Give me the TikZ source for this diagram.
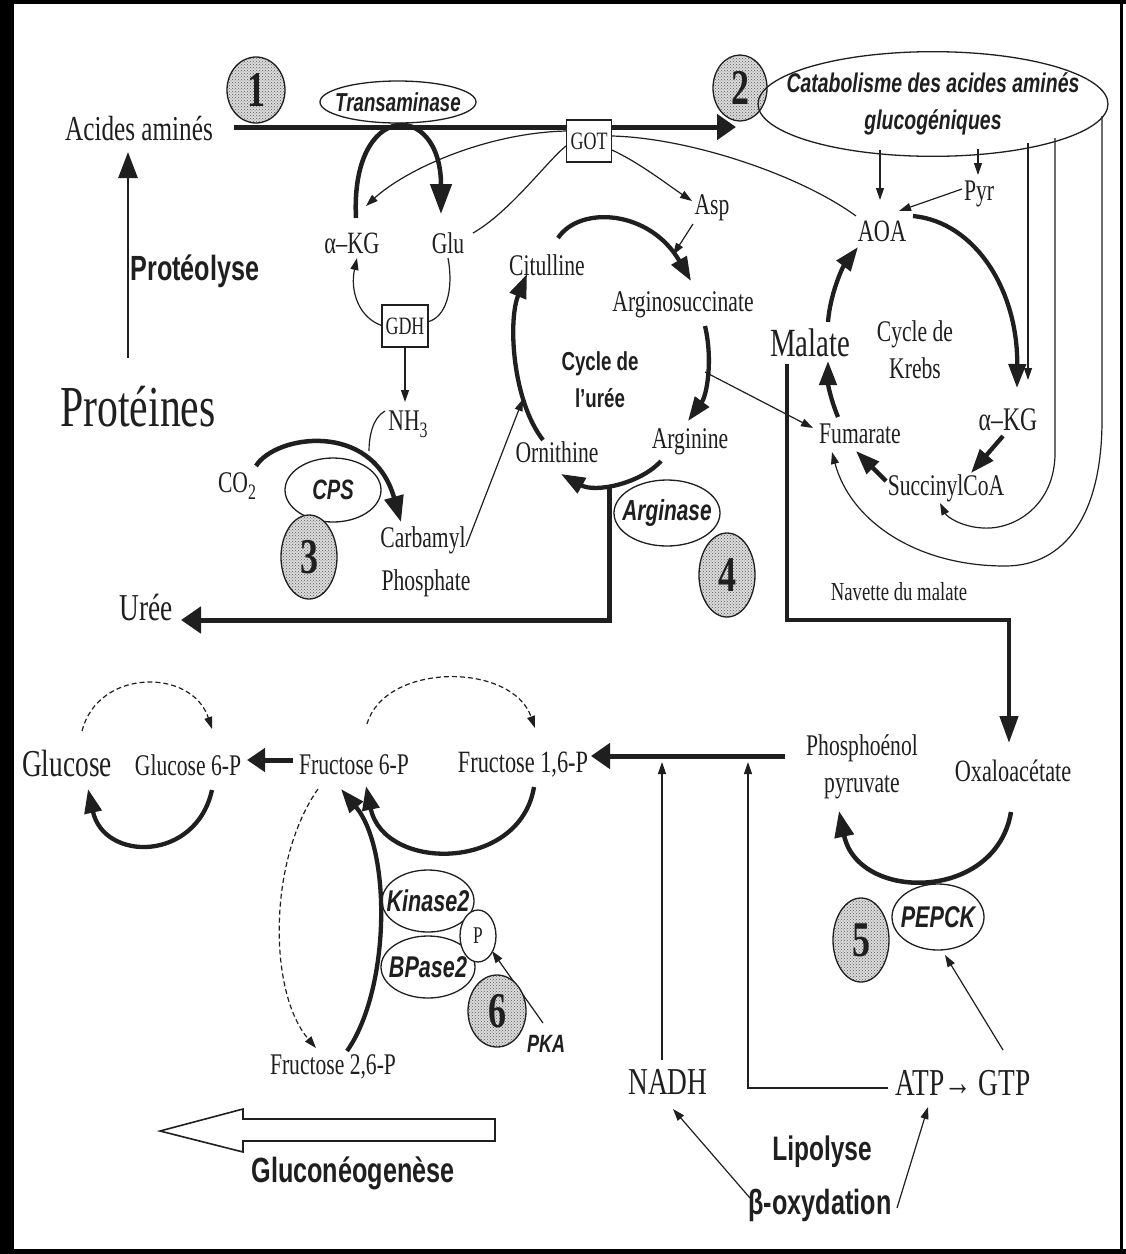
\documentclass[tikz,border=0pt]{standalone}
\usepackage{fontspec}
\setmainfont{Liberation Serif}[FakeStretch=0.72]
\newfontfamily\sansf{Liberation Sans}[FakeStretch=0.72]
\usetikzlibrary{arrows.meta,shapes.geometric,patterns}
\newcommand\fsz[2]{\fontsize{#1}{#2}\selectfont}
\newcommand\zb[1]{\makebox[0pt]{#1}}
\definecolor{ink}{gray}{0.12}
\begin{document}
\begin{tikzpicture}[x=1pt,y=-1pt,
  every node/.style={inner sep=0pt,text=ink},
  txt/.style={font=\fsz{30}{37}},
  enz/.style={ellipse,draw=ink,line width=1.3pt,font=\sansf\bfseries\itshape\fsz{28}{34}},
  num/.style={ellipse,draw=ink,line width=1.3pt,preaction={fill=gray!28},pattern=crosshatch dots,pattern color=gray!70!black,font=\bfseries\fsz{50}{50}},
  boxn/.style={rectangle,draw=ink,line width=1.2pt,fill=white,font=\fsz{25}{25}},
  lab/.style={font=\sansf\bfseries\fsz{35}{42}},
  fat/.style={draw=ink,line width=4.5pt,-{Triangle[length=26pt,width=19pt]}},
  fatb/.style={draw=ink,line width=4.3pt,-{Triangle[length=24pt,width=17pt]}},
  heavy/.style={draw=ink,line width=5pt,line join=miter,-{Triangle[length=19pt,width=25pt]}},
  thin/.style={draw=ink,line width=1.2pt},
  tarr/.style={thin,-{Triangle[length=12pt,width=8pt]}},
  darr/.style={tarr,dash pattern=on 5pt off 3pt},
]
\useasboundingbox (0,0) rectangle (1126,1254);
\fill[white] (0,0) rectangle (1126,1254);
\fill[black] (0,0) rectangle (14,1254);
\fill[black] (0,0) rectangle (1126,4);
\fill[black] (1120,0) rectangle (1123,1254);
\fill[black] (0,1249) rectangle (1126,1254);

% ---------- connector end points ----------
\coordinate (c1s) at (234,127); \coordinate (c1e) at (736,127);
\coordinate (pr1) at (128,358); \coordinate (pr2) at (128,152);
\coordinate (ta1) at (356,218); \coordinate (ta2) at (441,214);
\coordinate (go1) at (566,131); \coordinate (go2) at (366,206);
\coordinate (gl1) at (473,233); \coordinate (gl2) at (566,146);
\coordinate (gd1) at (448,258); \coordinate (gd2) at (427,322);
\coordinate (gd3) at (383,326); \coordinate (gd4) at (357,258);
\coordinate (gd5) at (405,347); \coordinate (gd6) at (405,402);
\coordinate (nh1) at (385,411); \coordinate (nh2) at (369,451);
\coordinate (cp1) at (256,466); \coordinate (cp2) at (401,522);
\coordinate (ca1) at (466,546); \coordinate (ca2) at (523,399);
\coordinate (ci1) at (558,238); \coordinate (ci2) at (691,281);
\coordinate (as1) at (693,224); \coordinate (as2) at (673,255);
\coordinate (ar1) at (705,326); \coordinate (ar2) at (688,421);
\coordinate (af1) at (705,372); \coordinate (af2) at (813,428);
\coordinate (ao1) at (661,461); \coordinate (ao2) at (561,474);
\coordinate (ur1) at (609,486); \coordinate (ur2) at (609,620); \coordinate (ur3) at (181,620);
\coordinate (oc1) at (543,440); \coordinate (oc2) at (527,274);
\coordinate (ma1) at (828,322); \coordinate (ma2) at (858,247);
\coordinate (fm1) at (838,417); \coordinate (fm2) at (828,361);
\coordinate (sf1) at (886,481); \coordinate (sf2) at (856,451);
\coordinate (ks1) at (1003,436); \coordinate (ks2) at (971,473);
\coordinate (ak1) at (913,216); \coordinate (ak2) at (1017,388);
\coordinate (e1) at (880,150); \coordinate (e1b) at (880,200);
\coordinate (e2) at (978,149); \coordinate (e2b) at (978,175);
\coordinate (e3) at (1028,143); \coordinate (e3b) at (1028,380);
\coordinate (e4) at (1055,138); \coordinate (e4b) at (1055,453); \coordinate (e4c) at (983,528); \coordinate (e4d) at (940,503);
\coordinate (e5) at (1102,116); \coordinate (e5b) at (1102,420); \coordinate (e5c) at (1005,566); \coordinate (e5d) at (832,452);
\coordinate (py1) at (962,189); \coordinate (py2) at (899,211);
\coordinate (ga1) at (612,150); \coordinate (ga2) at (692,201);
\coordinate (gb1) at (612,136); \coordinate (gb2) at (856,216);
\coordinate (nv1) at (787,364); \coordinate (nv2) at (787,620); \coordinate (nv3) at (1009,620); \coordinate (nv4) at (1009,743);
\coordinate (pe1) at (785,756); \coordinate (pe2) at (591,756);
\coordinate (nd1) at (662,1060); \coordinate (nd2) at (662,762);
\coordinate (at1) at (888,1088); \coordinate (at2) at (748,1088); \coordinate (at3) at (748,762);
\coordinate (fg1) at (293,760); \coordinate (fg2) at (247,760);
\coordinate (gc1) at (82,731); \coordinate (gc2) at (212,729); \coordinate (gc3) at (212,790); \coordinate (gc4) at (88,789);
\coordinate (fc1) at (367,724); \coordinate (fc2) at (535,728); \coordinate (fc3) at (534,787); \coordinate (fc4) at (366,786);
\coordinate (fd1) at (318,789); \coordinate (fd2) at (316,1048); \coordinate (fd3) at (347,1051); \coordinate (fd4) at (341,789);
\coordinate (pk1) at (543,1023); \coordinate (pk2) at (492,951);
\coordinate (pp1) at (1011,812); \coordinate (pp2) at (839,811);
\coordinate (ap1) at (1003,1050); \coordinate (ap2) at (945,955);
\coordinate (bn1) at (750,1198); \coordinate (bn2) at (673,1109);
\coordinate (ba1) at (897,1208); \coordinate (ba2) at (928,1107);

% ---------- connectors ----------
\draw[heavy] (c1s) -- (c1e);
\draw[draw=ink,line width=2.6pt,-{Triangle[length=26pt,width=19pt]}] (pr1) -- (pr2);
\draw[draw=ink,line width=4.5pt,-{Triangle[length=30pt,width=21pt]}] (ta1) .. controls (350,100) and (441,100) .. (ta2);
\draw[tarr] (go1) .. controls (485,133) and (405,170) .. (go2);
\draw[thin] (gl1) .. controls (510,212) and (548,160) .. (gl2);
\draw[thin] (gd1) .. controls (454,290) and (446,318) .. (gd2);
\draw[tarr] (gd3) .. controls (358,318) and (350,290) .. (gd4);
\draw[tarr] (gd5) -- (gd6);
\draw[thin] (nh1) .. controls (372,418) and (369,438) .. (nh2);
\draw[fat] (cp1) .. controls (275,435) and (372,420) .. (cp2);
\draw[tarr] (ca1) -- (ca2);
\draw[fatb] (ci1) .. controls (580,205) and (650,210) .. (ci2);
\draw[tarr] (as1) -- (as2);
\draw[fatb] (ar1) .. controls (713,360) and (707,395) .. (ar2);
\draw[tarr] (af1) -- (af2);
\draw[fatb] (ao1) .. controls (640,484) and (595,493) .. (ao2);
\draw[draw=ink,line width=5pt,line join=miter,-{Triangle[length=20pt,width=26pt]}] (ur1) -- (ur2) -- (ur3);
\draw[fatb] (oc1) .. controls (512,400) and (508,320) .. (oc2);
\draw[fatb] (ma1) .. controls (830,295) and (842,268) .. (ma2);
\draw[fatb] (fm1) .. controls (831,400) and (828,385) .. (fm2);
\draw[fatb] (sf1) -- (sf2);
\draw[fatb] (ks1) -- (ks2);
\draw[fatb] (ak1) .. controls (975,222) and (1018,290) .. (ak2);
\draw[tarr] (e1) -- (e1b);
\draw[tarr] (e2) -- (e2b);
\draw[tarr] (e3) -- (e3b);
\draw[tarr] (e4) -- (e4b) .. controls (1055,505) and (1015,530) .. (e4c) .. controls (962,527) and (947,517) .. (e4d);
\draw[tarr] (e5) -- (e5b) .. controls (1102,515) and (1065,566) .. (e5c) .. controls (915,566) and (850,520) .. (e5d);
\draw[tarr] (py1) -- (py2);
\draw[tarr] (ga1) .. controls (640,163) and (668,185) .. (ga2);
\draw[thin] (gb1) .. controls (690,138) and (800,175) .. (gb2);
\draw[draw=ink,line width=4.5pt,line join=miter,-{Triangle[length=27pt,width=18pt]}] (nv1) -- (nv2) -- (nv3) -- (nv4);
\draw[heavy] (pe1) -- (pe2);
\draw[tarr] (nd1) -- (nd2);
\draw[tarr] (at1) -- (at2) -- (at3);
\draw[draw=ink,line width=5pt,-{Triangle[length=18pt,width=23pt]}] (fg1) -- (fg2);
\draw[darr] (gc1) .. controls (98,668) and (192,668) .. (gc2);
\draw[fatb] (gc3) .. controls (196,862) and (104,862) .. (gc4);
\draw[darr] (fc1) .. controls (385,662) and (512,662) .. (fc2);
\draw[fatb] (fc3) .. controls (520,872) and (384,872) .. (fc4);
\draw[darr] (fd1) .. controls (268,860) and (268,992) .. (fd2);
\draw[fatb] (fd3) .. controls (390,990) and (392,850) .. (fd4);
\draw[tarr] (pk1) -- (pk2);
\draw[fat] (pp1) .. controls (996,902) and (858,902) .. (pp2);
\draw[tarr] (ap1) -- (ap2);
\draw[tarr] (bn1) -- (bn2);
\draw[tarr] (ba1) -- (ba2);
% hollow arrow
\draw[ink,line width=1.6pt,line join=miter] (160,1131) -- (243,1109) -- (243,1119) -- (495,1119) -- (495,1141) -- (243,1141) -- (243,1152) -- cycle;

% ---------- nodes ----------
\node[font=\fsz{35}{40}] (aa) at (139,128) {Acides aminés};
\node[font=\fsz{58}{60}] (prot) at (138,407) {Protéines};
\node[lab] (proteo) at (195,271) {Protéolyse};
\node[font=\fsz{31}{36}] (akg1) at (352,243) {α–KG};
\node[txt] (glu) at (448,243) {Glu};
\node[boxn,minimum width=46pt,minimum height=42pt] (gdh) at (405,326) {GDH};
\node[txt] (nh3) at (408,424) {NH\raisebox{-7pt}{\fsz{22}{22}3}};
\node[txt] (co2) at (237,486) {CO\raisebox{-7pt}{\fsz{22}{22}2}};
\node[enz,minimum width=96pt,minimum height=64pt] (cps) at (333,490) {\zb{CPS}};
\node[num,minimum width=56pt,minimum height=84pt] (n3) at (309,557) {3};
\node[txt] (carb) at (423,540) {Carbamyl};
\node[txt] (phos) at (426,583) {Phosphate};
\node[font=\fsz{38}{40}] (uree) at (146,607) {Urée};
\node[num,minimum width=58pt,minimum height=66pt] (n1) at (256,90) {1};
\node[enz,font=\sansf\bfseries\itshape\fsz{26}{30},minimum width=156pt,minimum height=42pt] (trans) at (398,102) {\zb{Transaminase}};
\node[boxn,minimum width=45pt,minimum height=42pt] (got) at (589,141) {GOT};
\node[num,minimum width=54pt,minimum height=66pt] (n2) at (740,88) {2};
\node[enz,font=\sansf\bfseries\itshape\fsz{27}{37},minimum width=350pt,minimum height=94pt] (cat) at (933,104) {\zb{\begin{tabular}{@{}c@{}}Catabolisme des acides aminés\\glucogéniques\end{tabular}}};
\node[txt] (asp) at (712,208) {Asp};
\node[txt] (cit) at (547,265) {Citulline};
\node[txt] (argsuc) at (683,305) {Arginosuccinate};
\node[font=\sansf\bfseries\fsz{26}{37},align=center] (cycu) at (600,380) {Cycle de\\l’urée};
\node[txt] (arg) at (690,442) {Arginine};
\node[txt] (orn) at (557,452) {Ornithine};
\node[enz,font=\sansf\bfseries\itshape\fsz{29}{34},minimum width=106pt,minimum height=66pt] (argase) at (667,513) {\zb{Arginase}};
\node[num,minimum width=56pt,minimum height=84pt] (n4) at (727,575) {4};
\node[font=\fsz{31}{36}] (aoa) at (882,231) {AOA};
\node[txt] (pyr) at (979,194) {Pyr};
\node[font=\fsz{40}{44}] (malate) at (810,343) {Malate};
\node[txt,align=center] (krebs) at (915,350) {Cycle de\\Krebs};
\node[txt] (fum) at (860,434) {Fumarate};
\node[font=\fsz{33}{36}] (akg2) at (1008,420) {α–KG};
\node[txt] (succ) at (946,488) {SuccinylCoA};
\node[font=\fsz{26}{30}] (nav) at (899,592) {Navette du malate};
\node[font=\fsz{38}{40}] (glc) at (67,763) {Glucose};
\node[font=\fsz{30}{36}] (g6p) at (188,765) {Glucose 6-P};
\node[txt] (f6p) at (354,765) {Fructose 6-P};
\node[font=\fsz{31}{36}] (f16p) at (523,765) {Fructose 1,6-P};
\node[txt,align=center] (pep) at (862,767) {Phosphoénol\\pyruvate};
\node[font=\fsz{31}{36}] (oxa) at (1013,771) {Oxaloacétate};
\node[enz,font=\sansf\bfseries\itshape\fsz{30}{34},minimum width=92pt,minimum height=66pt] (pepck) at (938,917) {\zb{PEPCK}};
\node[num,minimum width=56pt,minimum height=84pt] (n5) at (861,940) {5};
\node[enz,font=\sansf\bfseries\itshape\fsz{30}{34},minimum width=92pt,minimum height=62pt] (kin) at (428,901) {\zb{Kinase2}};
\node[enz,font=\sansf\bfseries\itshape\fsz{30}{34},minimum width=94pt,minimum height=62pt] (bpa) at (428,967) {\zb{BPase2}};
\node[ellipse,draw=ink,line width=1.3pt,fill=white,minimum width=36pt,minimum height=52pt,font=\fsz{24}{24}] (pc) at (478,936) {P};
\node[num,minimum width=58pt,minimum height=72pt] (n6) at (497,1011) {6};
\node[font=\sansf\bfseries\itshape\fsz{25}{28}] (pka) at (546,1044) {PKA};
\node[txt] (f26p) at (333,1067) {Fructose 2,6-P};
\node[font=\fsz{38}{40}] (nadh) at (668,1082) {NADH};
\node[font=\fsz{38}{40}] (atp) at (963,1083) {ATP→ GTP};
\node[font=\sansf\bfseries\fsz{34}{40}] (lipo) at (822,1152) {Lipolyse};
\node[lab] (beta) at (820,1205) {β-oxydation};
\node[lab] (gluco) at (353,1173) {Gluconéogenèse};
\end{tikzpicture}
\end{document}
